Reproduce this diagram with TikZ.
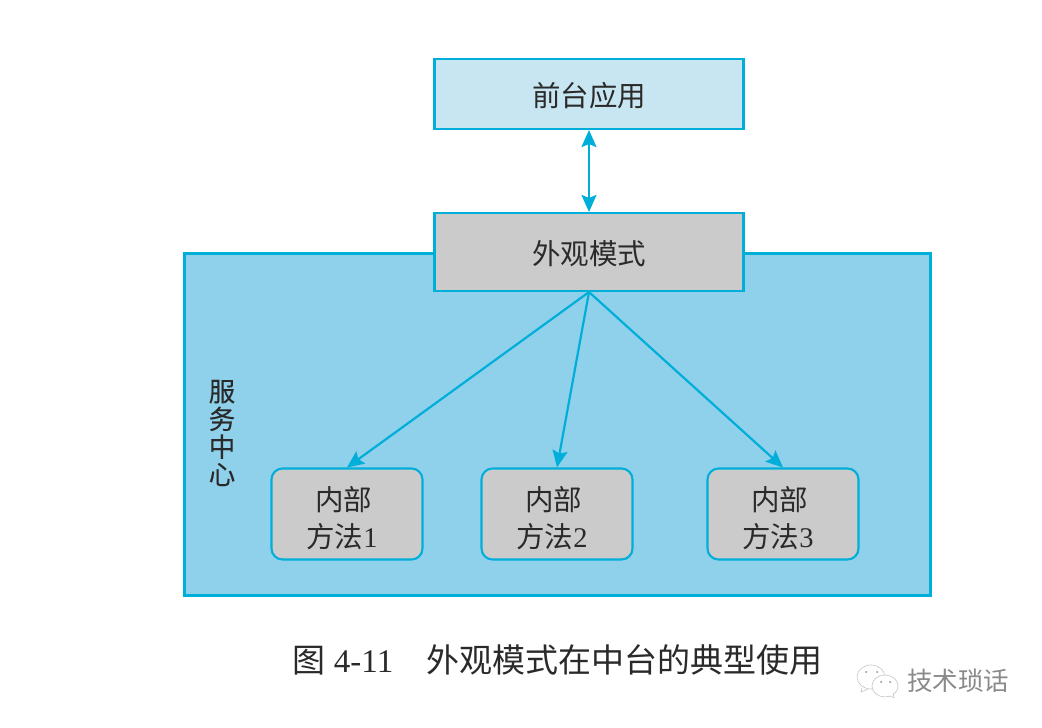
\documentclass[tikz,border=0pt]{standalone}
\usepackage{fontspec}
\usetikzlibrary{positioning,arrows.meta}
\newfontfamily\cjk{Noto Sans CJK SC}
\newfontfamily\cjkheavy[FakeBold=0.25]{Noto Sans CJK SC}
\setmainfont{Liberation Serif}
\newcommand{\methodtext}[1]{\rule{0pt}{32pt}{\cjk 内部}\hspace*{7pt}\\{\cjk 方法}#1\hspace*{10pt}}
\definecolor{linecyan}{HTML}{00AEDA}
\definecolor{panelblue}{HTML}{8FD0EA}
\definecolor{lightblue}{HTML}{C8E6F1}
\definecolor{boxgray}{HTML}{CBCBCB}
\definecolor{inkgray}{HTML}{2A2A2A}
\definecolor{markgray}{HTML}{8A8A8A}
\tikzset{
    box/.style={draw=linecyan,line width=2.1pt,text=inkgray,inner sep=0pt,align=center},
    widebox/.style={box,minimum width=309pt,text height=27pt,font=\fontsize{28.5}{34}\selectfont\cjk},
    method/.style={box,fill=boxgray,rounded corners=11pt,minimum width=151pt,minimum height=91pt,
        font=\fontsize{28.5}{37}\selectfont},
    headtip/.tip={Stealth[length=17pt,width=15pt,inset=3pt]},
    link/.style={draw=linecyan,line width=2.2pt,-headtip},
    bubble/.style={draw=markgray!50,line width=0.6pt,fill=white}
}
\begin{document}
\begin{tikzpicture}[x=1pt,y=-1pt]
    \useasboundingbox (0,0) rectangle (1042,728);
    % service centre panel
    \node[draw=linecyan,line width=2.1pt,fill=panelblue,minimum width=746pt,minimum height=342pt] (center) at (557.5,424.5) {};
    \node[font=\fontsize{26.5}{27.7}\selectfont\cjkheavy,text=inkgray,align=center,inner sep=0pt] (centerlabel) at (222,433) {服\\务\\中\\心};
    % front end and facade
    \node[widebox,fill=lightblue,minimum height=70pt] (front) at (589,94) {前台应用};
    \node[widebox,fill=boxgray,minimum height=78pt] (facade) at (589,252) {外观模式};
    % internal methods
    \node[method] (methoda) at (347,514) {\methodtext{1}};
    \node[method] (methodb) at (557,514) {\methodtext{2}};
    \node[method] (methodc) at (783,514) {\methodtext{3}};
    % links
    \draw[link,headtip-headtip] (front.south) -- (facade.north);
    \draw[link] (facade.south) -- (methoda.north);
    \draw[link] (facade.south) -- (methodb.north);
    \draw[link] (facade.south) -- (methodc.north);
    % caption
    \node[font=\fontsize{33}{33}\selectfont,text=inkgray,inner sep=0pt] (caption) at (557.5,660) {{\cjk 图} 4-11\hspace{33pt}{\cjk 外观模式在中台的典型使用}};
    % mark in the corner
    \draw[bubble] (871,677) ellipse (14pt and 12pt);
    \draw[bubble] (862,688) -- (861,692) -- (868,689);
    \draw[bubble] (885,686) ellipse (13pt and 11pt);
    \draw[bubble] (890,696) -- (894,698) -- (893,693);
    \foreach \px/\py in {866/672,877/672,881/682,890/682}
        \fill[markgray] (\px,\py) circle (1pt);
    \node[font=\fontsize{25.5}{25}\selectfont\cjk,text=markgray,inner sep=0pt] (mark) at (958,681) {技术琐话};
\end{tikzpicture}
\end{document}
